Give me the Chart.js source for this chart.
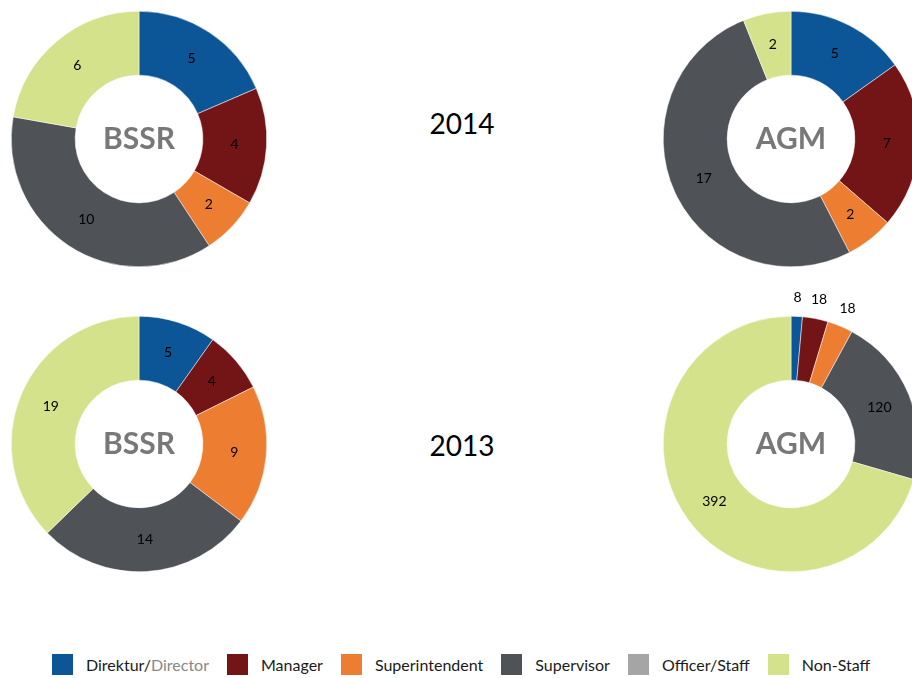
<!DOCTYPE html>
<html>
<head>
<meta charset="utf-8">
<script src="https://cdn.jsdelivr.net/npm/chart.js@4/dist/chart.umd.min.js"></script>
<style>
  html, body { margin: 0; padding: 0; background: #fff; }
  body { width: 912px; height: 678px; overflow: hidden; position: relative; font-family: Lato, "Open Sans", sans-serif; }
  .donut { position: absolute; width: 320px; height: 320px; }
  .year { position: absolute; font-size: 28px; color: #000; width: 120px; text-align: center; }
  #legend { position: absolute; left: 52px; top: 654px; display: flex; align-items: center; gap: 18px; font-size: 16px; color: #1a1a1a; }
  #legend .item { display: flex; align-items: center; }
  #legend .sw { width: 21px; height: 21px; margin-right: 13px; }
  #legend .item span.sub { color: #888; }
</style>
</head>
<body>
<canvas id="bssr2014" class="donut" width="320" height="320" style="left:-21px;top:-21px"></canvas>
<canvas id="agm2014" class="donut" width="320" height="320" style="left:631px;top:-21px"></canvas>
<canvas id="bssr2013" class="donut" width="320" height="320" style="left:-21px;top:284px"></canvas>
<canvas id="agm2013" class="donut" width="320" height="320" style="left:631px;top:284px"></canvas>
<div class="year" style="left:402px;top:106px">2014</div>
<div class="year" style="left:402px;top:428px">2013</div>
<div id="legend"></div>

<script>
// categories + colours (legend order)
const categories = ['Direktur/Director', 'Manager', 'Superintendent', 'Supervisor', 'Officer/Staff', 'Non-Staff'];
const colors = ['#0c5597', '#731416', '#ed7d31', '#4f5256', '#a5a5a5', '#d3e28b'];

// values
const bssr2014 = [5, 4, 2, 10, 0, 6];
const agm2014 = [5, 7, 2, 17, 0, 2];
const bssr2013 = [5, 4, 9, 14, 0, 19];
const agm2013 = [8, 18, 18, 120, 0, 392];

// slices this small get their label outside the ring
const outsideLimit = 0.04;

const sliceLabels = {
    id: 'sliceLabels',
    afterDatasetsDraw(chart) {
        const { ctx } = chart;
        const ds = chart.data.datasets[0].data;
        const total = ds.reduce((a, b) => a + b, 0);
        ctx.save();
        ctx.font = '14px Lato, "Open Sans", sans-serif';
        ctx.fillStyle = '#000';
        ctx.textAlign = 'center';
        ctx.textBaseline = 'middle';
        chart.getDatasetMeta(0).data.forEach((arc, i) => {
            const v = ds[i];
            if (!v) return;
            const mid = (arc.startAngle + arc.endAngle) / 2;
            let r = (arc.innerRadius + arc.outerRadius) / 2;
            if (v / total < outsideLimit) r = arc.outerRadius + 19;
            ctx.fillText(v, arc.x + Math.cos(mid) * r, arc.y + Math.sin(mid) * r);
        });
        // centre caption
        const arc0 = chart.getDatasetMeta(0).data[0];
        ctx.font = 'bold 30px Lato, "Open Sans", sans-serif';
        ctx.fillStyle = '#78787a';
        ctx.fillText(chart.options.plugins.centerText, arc0.x, arc0.y);
        ctx.restore();
    }
};

function makeDonut(id, values, caption) {
    new Chart(document.getElementById(id), {
        type: 'doughnut',
        data: {
            labels: categories,
            datasets: [{
                data: values,
                backgroundColor: colors,
                borderWidth: 0.5,
                borderColor: '#ffffff'
            }]
        },
        options: {
            responsive: false,
            animation: false,
            cutout: '50%',
            layout: { padding: 32 },
            plugins: {
                legend: { display: false },
                tooltip: { enabled: false },
                centerText: caption
            }
        },
        plugins: [sliceLabels]
    });
}

makeDonut('bssr2014', bssr2014, 'BSSR');
makeDonut('agm2014', agm2014, 'AGM');
makeDonut('bssr2013', bssr2013, 'BSSR');
makeDonut('agm2013', agm2013, 'AGM');

// shared legend
const legend = document.getElementById('legend');
categories.forEach((c, i) => {
    const item = document.createElement('div');
    item.className = 'item';
    let text = c;
    if (c.includes('/Director')) text = 'Direktur/<span class="sub">Director</span>';
    item.innerHTML = `<div class="sw" style="background:${colors[i]}"></div><span>${text}</span>`;
    legend.appendChild(item);
});
</script>
</body>
</html>
